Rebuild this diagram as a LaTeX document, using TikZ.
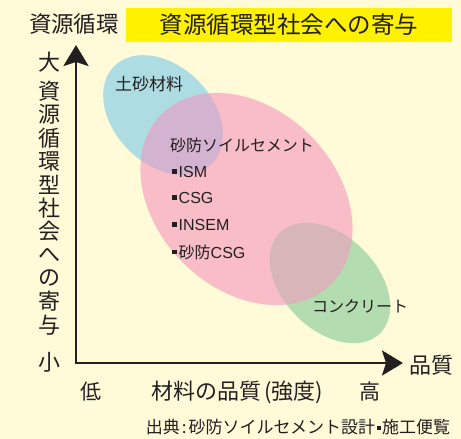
\documentclass[tikz,border=0pt]{standalone}
\usepackage{fontspec}
\setmainfont{Noto Sans CJK JP}
\newfontfamily\latf{Liberation Sans}
\usetikzlibrary{arrows.meta}
\definecolor{bg}{HTML}{FFFAD8}
\definecolor{tyellow}{HTML}{FFF100}
\definecolor{txt}{HTML}{231F20}
\definecolor{cblue}{HTML}{ADDDE2}
\definecolor{cpink}{HTML}{F8BDC6}
\definecolor{cgreen}{HTML}{B3DDB0}
\definecolor{clav}{HTML}{D3B3D0}
\definecolor{cpg}{HTML}{D8B5B8}
\newcommand\fsz[1]{\fontsize{#1}{#1}\selectfont}
\newcommand\sqb{\rule[3.6pt]{4.5pt}{4.5pt}\hspace{2pt}}
\newcommand\sqs{\hspace{1.5pt}\rule[3.4pt]{4pt}{4pt}\hspace{1.5pt}}
\begin{document}
\begin{tikzpicture}[x=1pt,y=-1pt,
  every node/.style={inner sep=0pt, text=txt},
  lbl/.style={font=\fsz{22}},
  inlbl/.style={font=\fsz{16}, anchor=west},
  axis/.style={draw=txt, line width=2.8pt}]
\useasboundingbox (0,0) rectangle (461,439);
\fill[bg] (0,0) rectangle (461,439);
% ellipses
\fill[cblue, rotate around={-45:(163,115)}] (163,115) ellipse [x radius=69, y radius=49];
\fill[cpink, rotate around={-45:(246.5,199)}] (246.5,199) ellipse [x radius=120, y radius=90];
\fill[cgreen, rotate around={-45:(330,283)}] (330,283) ellipse [x radius=71, y radius=47];
\begin{scope}
  \clip[rotate around={-45:(163,115)}] (163,115) ellipse [x radius=69, y radius=49];
  \fill[clav, rotate around={-45:(246.5,199)}] (246.5,199) ellipse [x radius=120, y radius=90];
\end{scope}
\begin{scope}
  \clip[rotate around={-45:(330,283)}] (330,283) ellipse [x radius=71, y radius=47];
  \fill[cpg, rotate around={-45:(246.5,199)}] (246.5,199) ellipse [x radius=120, y radius=90];
\end{scope}
% title
\node[fill=tyellow, minimum width=326pt, minimum height=34pt, font=\fsz{23.5}] (title) at (289,25) {資源循環型社会への寄与};
\node[font=\fsz{22.5}] (ytitle) at (74,24) {資源循環};
% axes
\coordinate (O) at (76,363);
\coordinate (Ytip) at (76,45);
\coordinate (Xtip) at (403,363);
\draw[axis, {Stealth[length=21pt,width=25pt,inset=4pt]}-{Stealth[length=21pt,width=25pt,inset=4pt]}] (Ytip) -- (O) -- (Xtip);
% y axis labels
\node[lbl] (big) at (49,62) {大};
\foreach \c [count=\i] in {資,源,循,環,型,社,会,へ,の,寄,与}
  \node[lbl] (v\i) at (49,{91+23.4*(\i-1)}) {\c};
\node[lbl] (small) at (49,362) {小};
% x axis labels
\node[lbl] (xq) at (431,365) {品質};
\node[font=\fsz{21}] (low) at (91,392) {低};
\node[font=\fsz{22}] (xlab) at (237,392) {材料の品質\hspace{3pt}(強度)};
\node[font=\fsz{21}] (high) at (370,392) {高};
\node[font=\fsz{17}] (src) at (298,427) {出典\hspace{2pt}:\hspace{2pt}砂防ソイルセメント設計\sqs 施工便覧};
% ellipse labels
\node[inlbl, font=\fsz{17}] (soil) at (115,84) {土砂材料};
\node[inlbl] (sc) at (170,145) {砂防ソイルセメント};
\node[inlbl] (ism) at (172,172) {\sqb{\latf ISM}};
\node[inlbl] (csg) at (172,198) {\sqb{\latf CSG}};
\node[inlbl] (insem) at (172,225) {\sqb{\latf INSEM}};
\node[inlbl] (scsg) at (172,252) {\sqb 砂防{\latf CSG}};
\node[inlbl] (conc) at (312,306) {コンクリート};
\end{tikzpicture}
\end{document}
